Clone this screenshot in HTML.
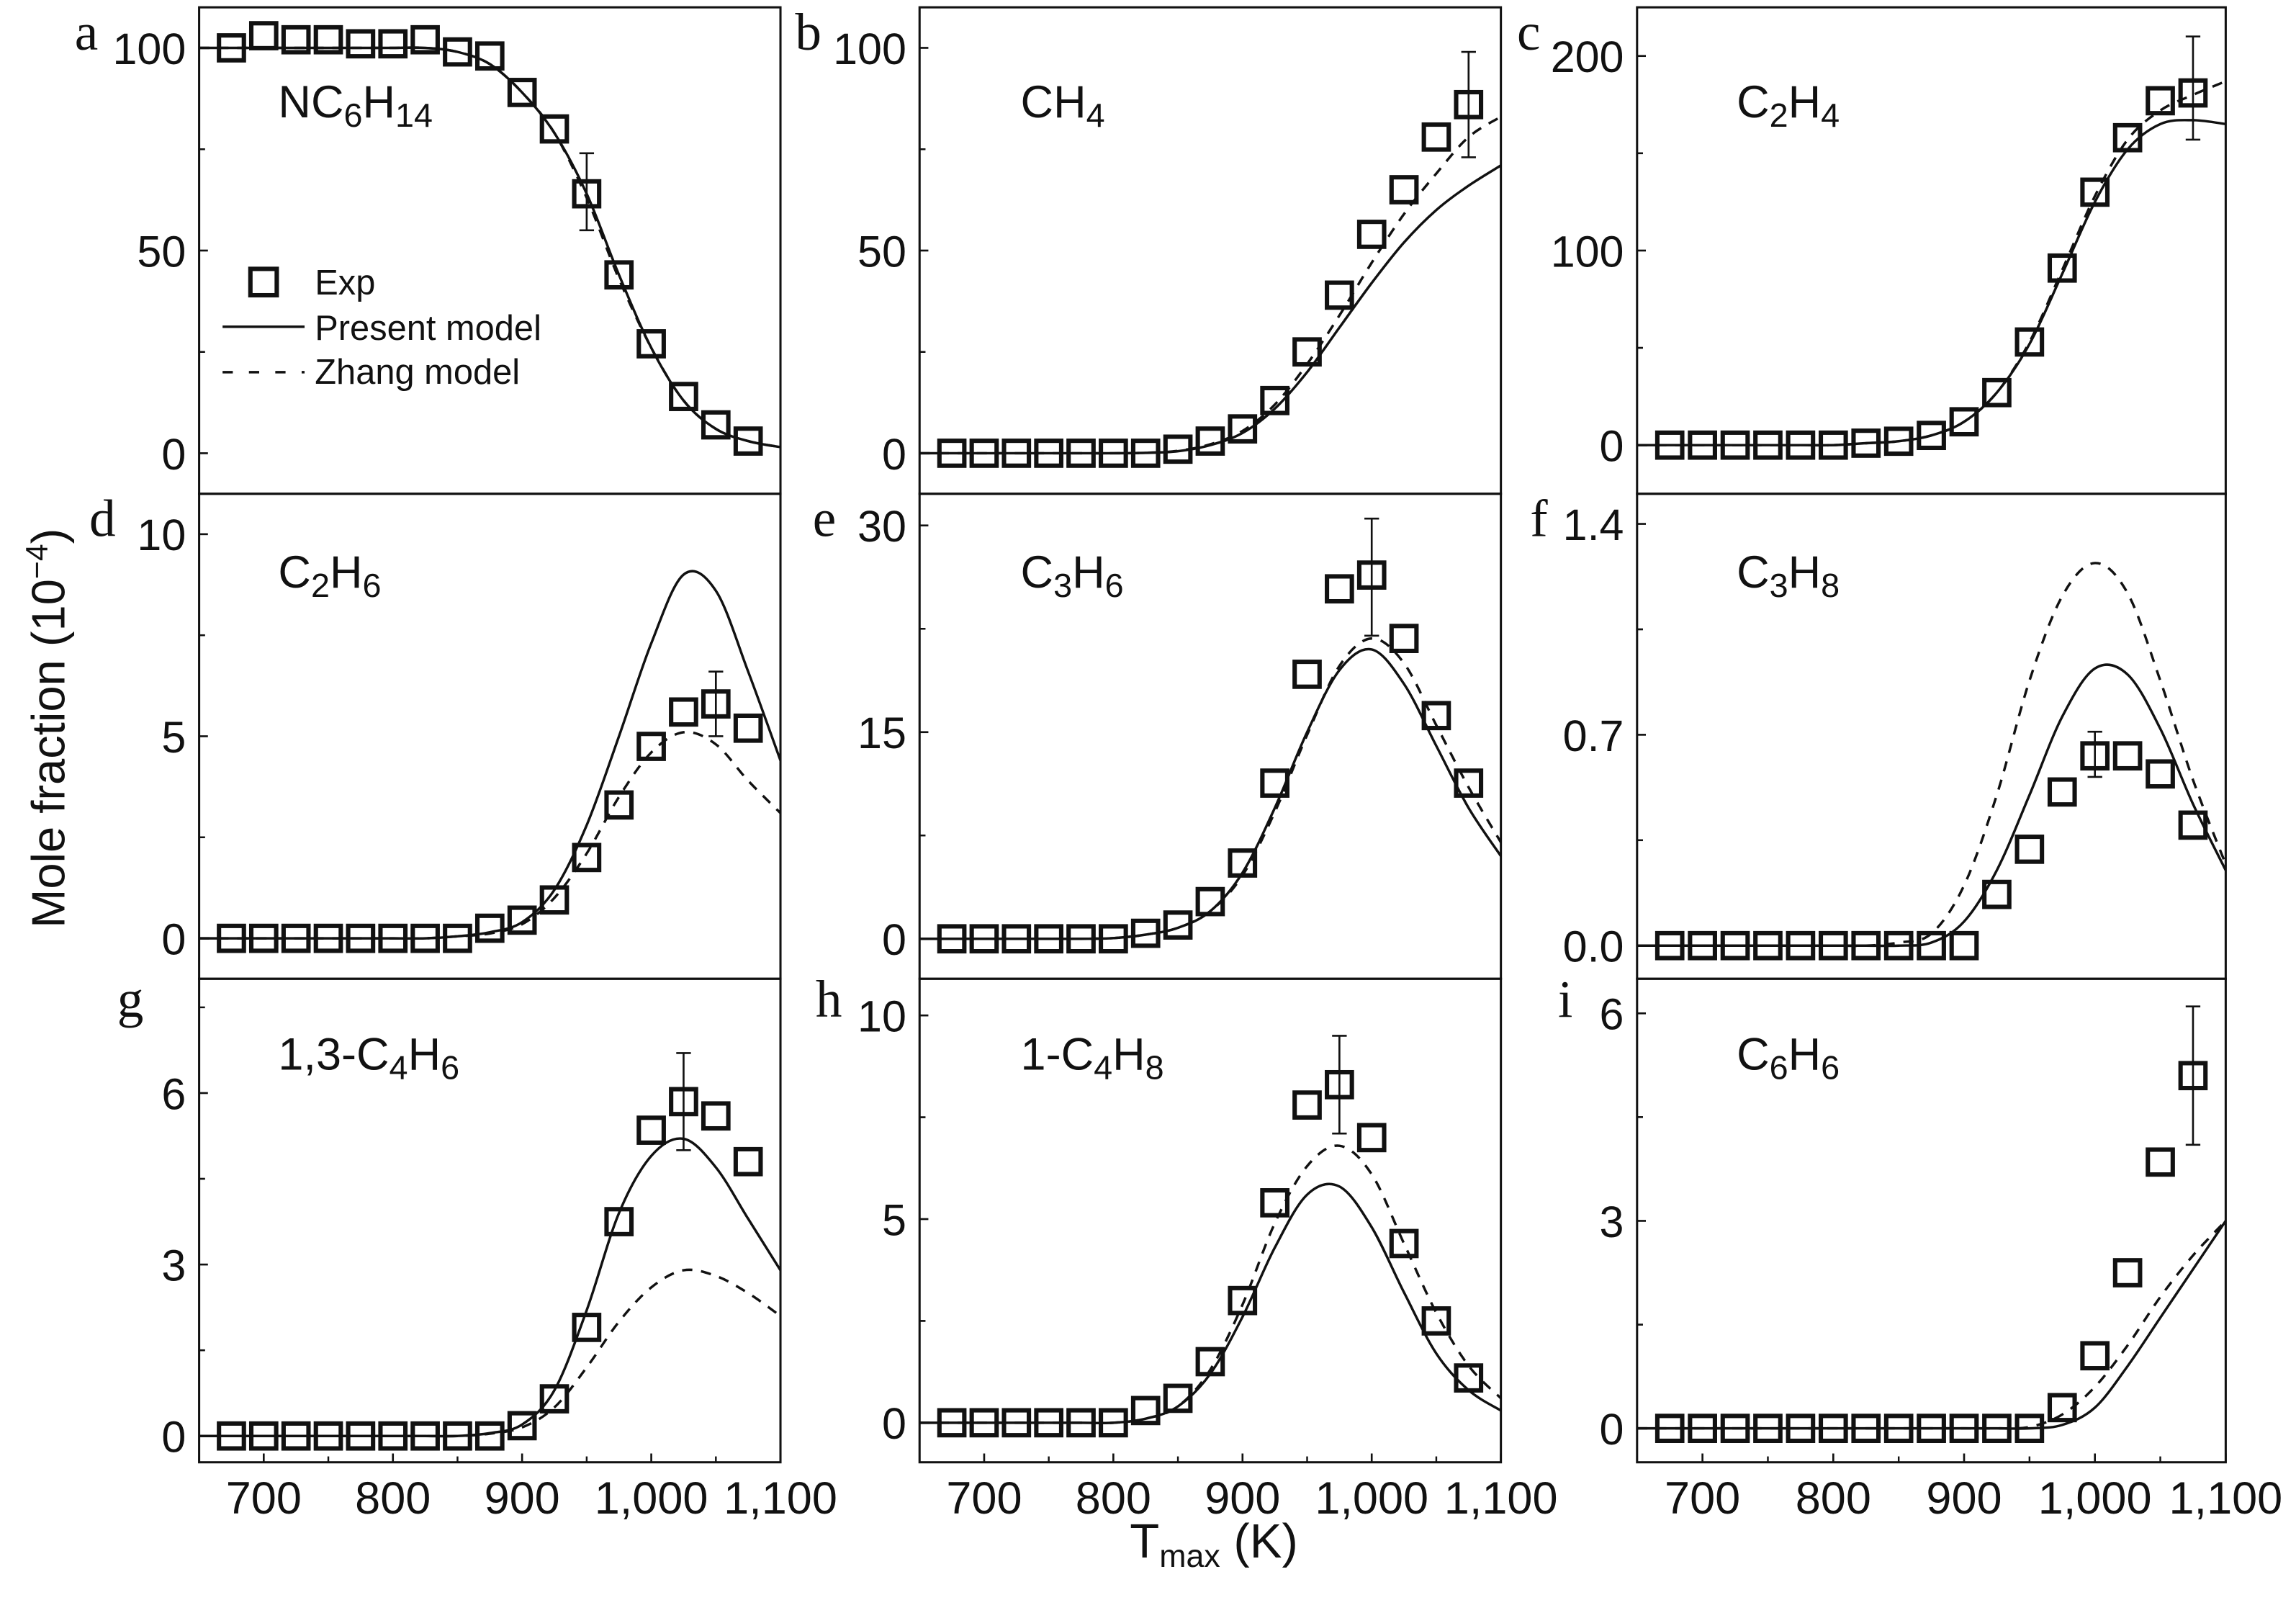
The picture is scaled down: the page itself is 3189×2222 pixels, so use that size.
<!DOCTYPE html>
<html><head><meta charset="utf-8"><style>
html,body{margin:0;padding:0;background:#fff;}
svg{display:block;}
text{font-family:"Liberation Sans",Arial,sans-serif;fill:#111;}
.ser{font-family:"Liberation Serif",serif;}
</style></head><body>
<svg id="chart" width="3189" height="2222" viewBox="0 0 1568 1092" preserveAspectRatio="none" xmlns="http://www.w3.org/2000/svg"></svg>
<script>
const expX=[675,700,725,750,775,800,825,850,875,900,925,950,975,1000,1025,1050,1075];
const modelX=[650,675,700,725,750,775,800,825,850,875,900,925,950,975,1000,1025,1050,1075,1100];
const xTicks=[700,800,900,1000,1100];
const xMinor=[650,750,850,950,1050];
const xTickLabels=["700","800","900","1,000","1,100"];

const expA=[100,103,102,102,101,101,102,99,98,89,80,64,44,27,14,7,3];
const presA=[100,100,100,100,100,100,100,100,99,96,89,79,64,44,26,13,6,3,1.5];
const zhangA=[100,100,100,100,100,100,100,100,99,96,89,79,63,43,26,13,6,3,1.5];
const errA=[[11,55,74]];
const expB=[0,0,0,0,0,0,0,1,3,6,13,25,39,54,65,78,86];
const presB=[0,0,0,0,0,0,0,0.1,0.5,2,5,11,20,31,42,52,60,66,71];
const zhangB=[0,0,0,0,0,0,0,0.1,0.6,2.2,5.5,12,22,34,47,59,69,78,83];
const errB=[[16,73,99]];
const expC=[0,0,0,0,0,0,1,2,5,12,27,53,91,130,158,177,181];
const presC=[0,0,0,0,0,0,0,1,2,5,12,27,52,88,125,152,165,167,165];
const zhangC=[0,0,0,0,0,0,0,1,2,5,12,27,53,90,128,157,172,180,187];
const errC=[[16,157,210]];
const expD=[0,0,0,0,0,0,0,0,0.25,0.45,0.95,2,3.3,4.75,5.6,5.8,5.2];
const presD=[0,0,0,0,0,0,0,0,0.05,0.15,0.4,1.2,2.8,5.0,7.3,9.0,8.6,6.6,4.4];
const zhangD=[0,0,0,0,0,0,0,0,0.05,0.12,0.35,1.0,2.1,3.5,4.6,5.1,4.8,3.9,3.1];
const errD=[[15,5.0,6.6]];
const expE=[0,0,0,0,0,0,0.4,1,2.7,5.5,11.3,19.2,25.4,26.4,21.8,16.2,11.3];
const presE=[0,0,0,0,0,0,0.05,0.3,0.8,2,4.8,9.5,15,19.5,21,18.5,14,9.5,6];
const zhangE=[0,0,0,0,0,0,0.05,0.3,0.8,2,4.6,9.2,14.8,19.8,21.8,20,15.5,11,7];
const errE=[[13,22,30.5]];
const expF=[0,0,0,0,0,0,0,0,0,0,0.17,0.32,0.51,0.63,0.63,0.57,0.4];
const presF=[0,0,0,0,0,0,0,0,0,0.01,0.08,0.25,0.5,0.76,0.92,0.9,0.72,0.47,0.25];
const zhangF=[0,0,0,0,0,0,0,0,0.01,0.04,0.2,0.5,0.88,1.16,1.27,1.17,0.88,0.55,0.27];
const errF=[[13,0.56,0.71]];
const expG=[0,0,0,0,0,0,0,0,0,0.18,0.65,1.9,3.75,5.35,5.85,5.6,4.8];
const presG=[0,0,0,0,0,0,0,0,0,0.05,0.2,0.8,2.2,3.9,4.9,5.2,4.7,3.8,2.9];
const zhangG=[0,0,0,0,0,0,0,0,0,0.04,0.15,0.5,1.2,2.0,2.6,2.9,2.8,2.5,2.1];
const errG=[[14,5.0,6.7]];
const expH=[0,0,0,0,0,0,0.3,0.6,1.5,3,5.4,7.8,8.3,7,4.4,2.5,1.1];
const presH=[0,0,0,0,0,0,0,0.1,0.4,1.2,2.6,4.3,5.6,5.8,4.8,3.2,1.7,0.8,0.3];
const zhangH=[0,0,0,0,0,0,0,0.1,0.4,1.3,2.9,4.9,6.3,6.8,6.1,4.4,2.7,1.4,0.6];
const errH=[[12,7.1,9.5]];
const expI=[0,0,0,0,0,0,0,0,0,0,0,0,0.3,1.05,2.25,3.85,5.1];
const presI=[0,0,0,0,0,0,0,0,0,0,0,0,0,0.05,0.3,0.9,1.6,2.3,3.0];
const zhangI=[0,0,0,0,0,0,0,0,0,0,0,0,0.02,0.2,0.6,1.2,1.9,2.5,3.0];
const errI=[[16,4.1,6.1]];

const ticksA=[0,50,100], ticksB=[0,50,100], ticksC=[0,100,200], ticksD=[0,5,10], ticksE=[0,15,30];
const ticksF=[0,0.7,1.4], ticksG=[0,3,6], ticksH=[0,5,10], ticksI=[0,3,6];
const tlF=["0.0","0.7","1.4"];

const NS="http://www.w3.org/2000/svg";
const svg=document.getElementById('chart');
function el(tag,attrs,parent){const e=document.createElementNS(NS,tag);for(const k in attrs)e.setAttribute(k,attrs[k]);(parent||svg).appendChild(e);return e;}

const cols=[[136,533],[628,1025],[1118,1520]];
const rows=[[5,337],[337,668],[668,998]];
const panels=[
 {id:'a',c:0,r:0,dom:[-10,110],exp:expA,pres:presA,zh:zhangA,err:errA,ticks:ticksA,lab:['NC',['6'],'H',['14']]},
 {id:'b',c:1,r:0,dom:[-10,110],exp:expB,pres:presB,zh:zhangB,err:errB,ticks:ticksB,lab:['CH',['4']]},
 {id:'c',c:2,r:0,dom:[-25,225],exp:expC,pres:presC,zh:zhangC,err:errC,ticks:ticksC,lab:['C',['2'],'H',['4']]},
 {id:'d',c:0,r:1,dom:[-1,11],exp:expD,pres:presD,zh:zhangD,err:errD,ticks:ticksD,lab:['C',['2'],'H',['6']]},
 {id:'e',c:1,r:1,dom:[-2.9,32.3],exp:expE,pres:presE,zh:zhangE,err:errE,ticks:ticksE,lab:['C',['3'],'H',['6']]},
 {id:'f',c:2,r:1,dom:[-0.11,1.5],exp:expF,pres:presF,zh:zhangF,err:errF,ticks:ticksF,tl:tlF,lab:['C',['3'],'H',['8']]},
 {id:'g',c:0,r:2,dom:[-0.46,8.0],exp:expG,pres:presG,zh:zhangG,err:errG,ticks:ticksG,lab:['1,3-C',['4'],'H',['6']]},
 {id:'h',c:1,r:2,dom:[-0.97,10.9],exp:expH,pres:presH,zh:zhangH,err:errH,ticks:ticksH,lab:['1-C',['4'],'H',['8']]},
 {id:'i',c:2,r:2,dom:[-0.49,6.5],exp:expI,pres:presI,zh:zhangI,err:errI,ticks:ticksI,lab:['C',['6'],'H',['6']]}
];

function smoothPath(pts){
 let d='M'+pts[0][0].toFixed(2)+','+pts[0][1].toFixed(2);
 for(let i=0;i<pts.length-1;i++){
  const p0=pts[Math.max(0,i-1)],p1=pts[i],p2=pts[i+1],p3=pts[Math.min(pts.length-1,i+2)];
  const c1=[p1[0]+(p2[0]-p0[0])/6,p1[1]+(p2[1]-p0[1])/6];
  const c2=[p2[0]-(p3[0]-p1[0])/6,p2[1]-(p3[1]-p1[1])/6];
  d+=' C'+c1[0].toFixed(2)+','+c1[1].toFixed(2)+' '+c2[0].toFixed(2)+','+c2[1].toFixed(2)+' '+p2[0].toFixed(2)+','+p2[1].toFixed(2);
 }
 return d;
}

panels.forEach(p=>{
 const [x0,x1]=cols[p.c],[y0,y1]=rows[p.r];
 const g=el('g',{});
 
 
 const xs=v=>x0+(v-650)/(1100-650)*(x1-x0);
 const ys=v=>y1-(v-p.dom[0])/(p.dom[1]-p.dom[0])*(y1-y0);
 const clipId='clip'+p.id;
 const cp=el('clipPath',{id:clipId},g);el('rect',{x:x0,y:y0,width:x1-x0,height:y1-y0},cp);
 const frame=el('rect',{x:x0,y:y0,width:x1-x0,height:y1-y0,fill:'none',stroke:'#111','stroke-width':1.5},g);
 
 
 // y ticks (inward)
 const step=p.ticks[1]-p.ticks[0];
 p.ticks.forEach((t,i)=>{
  el('line',{x1:x0,x2:x0+6,y1:ys(t),y2:ys(t),stroke:'#111','stroke-width':1.3},g);
  [t-step/2,t+step/2].forEach(m=>{const yy=ys(m);if(yy>y0+2&&yy<y1-2)el('line',{x1:x0,x2:x0+4,y1:yy,y2:yy,stroke:'#111','stroke-width':1.2},g);});
  const tx=el('text',{x:x0-9,y:ys(t)+11,'text-anchor':'end','font-size':30},g);
  tx.textContent=p.tl?p.tl[i]:String(t);
  
  
 });
 // x ticks
 if(p.r==2){
  xTicks.forEach((t,i)=>{
   el('line',{x1:xs(t),x2:xs(t),y1:y1,y2:y1-6,stroke:'#111','stroke-width':1.3},g);
   const tx=el('text',{x:xs(t),y:1033,'text-anchor':'middle','font-size':31},g);
   tx.textContent=xTickLabels[i];
   
   
  });
  xMinor.forEach(t=>{el('line',{x1:xs(t),x2:xs(t),y1:y1,y2:y1-4,stroke:'#111','stroke-width':1.2},g);});
 }
 const cg=el('g',{'clip-path':'url(#'+clipId+')'},g);
 const pres=el('path',{d:smoothPath(modelX.map((x,i)=>[xs(x),ys(p.pres[i])])),fill:'none',stroke:'#111','stroke-width':1.7},cg);
 
 
 const zh=el('path',{d:smoothPath(modelX.map((x,i)=>[xs(x),ys(p.zh[i])])),fill:'none',stroke:'#111','stroke-width':1.7,'stroke-dasharray':'7,6'},cg);
 
 
 p.err.forEach(e=>{
  const x=xs(expX[e[0]]);
  el('line',{x1:x,x2:x,y1:ys(e[1]),y2:ys(e[2]),stroke:'#111','stroke-width':1.3},g);
  el('line',{x1:x-5,x2:x+5,y1:ys(e[1]),y2:ys(e[1]),stroke:'#111','stroke-width':1.3},g);
  el('line',{x1:x-5,x2:x+5,y1:ys(e[2]),y2:ys(e[2]),stroke:'#111','stroke-width':1.3},g);
 });
 p.exp.forEach((v,i)=>{
  const r=el('rect',{x:xs(expX[i])-8.5,y:ys(v)-8.5,width:17,height:17,fill:'none',stroke:'#111','stroke-width':3},g);
  
  
 });
 // panel letter
 const lx=[[51,543,1036],[61,555,1045],[80,557,1064]][p.r][p.c];
 const ly=[34,366,694][p.r];
 const L=el('text',{x:lx,y:ly,'font-size':36,'class':'ser'},g);
 L.textContent=p.id;
 
 
 // species label
 const sx=[190,697,1186][p.c], sy=[80,401,730][p.r];
 const S=el('text',{x:sx,y:sy,'font-size':31},g);
 
 
 p.lab.forEach(part=>{
  const ts=el('tspan',{},S);
  if(Array.isArray(part)){ts.setAttribute('baseline-shift','-28%');ts.setAttribute('font-size','23');ts.textContent=part[0];}
  else ts.textContent=part;
 });
});

// legend
const lg=el('g',{});


el('rect',{x:171,y:183.5,width:18,height:18,fill:'none',stroke:'#111','stroke-width':3},lg);
let t=el('text',{x:215,y:201,'font-size':24},lg);t.textContent='Exp';


el('line',{x1:152,x2:208,y1:223,y2:223,stroke:'#111','stroke-width':1.7},lg);
t=el('text',{x:215,y:232,'font-size':24},lg);t.textContent='Present model';


el('line',{x1:152,x2:208,y1:254,y2:254,stroke:'#111','stroke-width':1.7,'stroke-dasharray':'7,11'},lg);
t=el('text',{x:215,y:262,'font-size':24},lg);t.textContent='Zhang model';



// axis titles
const yt=el('text',{x:0,y:0,'font-size':32,'text-anchor':'middle',transform:'translate(44,497) rotate(-90)'});


yt.appendChild(document.createTextNode('Mole fraction (10'));
const sup=el('tspan',{'baseline-shift':'super','font-size':21},yt);sup.textContent='−4';
const cl=el('tspan',{},yt);cl.textContent=')';
const xt=el('text',{x:829,y:1063,'font-size':33,'text-anchor':'middle'});


xt.appendChild(document.createTextNode('T'));
const sub=el('tspan',{'baseline-shift':'-30%','font-size':22},xt);sub.textContent='max';
const k=el('tspan',{},xt);k.textContent=' (K)';
</script>
</body></html>
